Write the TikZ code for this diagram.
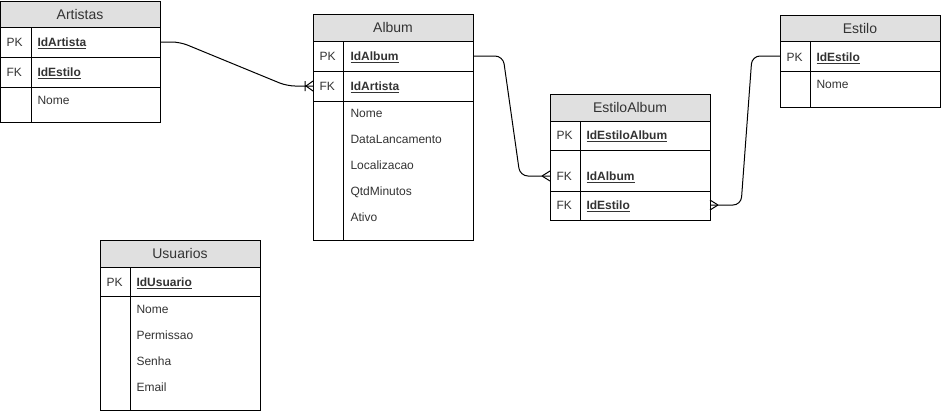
\documentclass[tikz,border=0pt]{standalone}
\usepackage{fontspec}
\setmainfont{Liberation Sans}
\usetikzlibrary{calc}
\definecolor{hdrgray}{HTML}{E0E0E0}
\definecolor{txt}{HTML}{333333}
\tikzset{
  every path/.style={line width=0.75pt},
  hdr/.style={draw, fill=hdrgray, text=txt, anchor=north west, minimum width=120pt, inner sep=0pt, outer sep=0pt,
    text height=7.6pt, text depth=0pt, font=\fontsize{10.5}{12}\selectfont},
  rowbox/.style={draw, anchor=north west, minimum width=120pt, inner sep=0pt, outer sep=0pt},
  lbl/.style={anchor=west, inner sep=0pt, text=txt, text height=6.5pt, text depth=0pt, font=\fontsize{9}{11}\selectfont},
  keylbl/.style={lbl, font=\fontsize{9}{11}\selectfont\bfseries},
  conn/.style={line width=0.75pt, rounded corners=6pt},
  foot/.style={line width=0.75pt},
}
\newcommand{\ul}[1]{\underline{#1}}
\begin{document}
\begin{tikzpicture}[x=0.75pt, y=-0.75pt]
\useasboundingbox (0,0) rectangle (941,411);

% ---------- Artistas ----------
\node[hdr, minimum height=26*0.75pt] (art) at (0,1) {Artistas};
\node[rowbox, minimum height=30*0.75pt] (artPK) at (0,27) {};
\node[rowbox, minimum height=30*0.75pt] (artFK) at (0,57) {};
\node[rowbox, minimum height=35*0.75pt] (artR) at (0,87) {};
\draw (31,27) -- (31,122);
\node[lbl] (artPKk) at (6,42) {PK};
\node[keylbl] (artPKf) at (37,42) {\ul{IdArtista}};
\node[lbl] (artFKk) at (6,72) {FK};
\node[keylbl] (artFKf) at (37,72) {\ul{IdEstilo}};
\node[lbl] (artN) at (37,100) {Nome};

% ---------- Album ----------
\node[hdr, minimum height=27*0.75pt] (alb) at (313,14) {Album};
\node[rowbox, minimum height=30*0.75pt] (albPK) at (313,41) {};
\node[rowbox, minimum height=30*0.75pt] (albFK) at (313,71) {};
\node[rowbox, minimum height=139*0.75pt] (albR) at (313,101) {};
\draw (343,41) -- (343,240);
\node[lbl] (albPKk) at (319,56) {PK};
\node[keylbl] (albPKf) at (350,56) {\ul{IdAlbum}};
\node[lbl] (albFKk) at (319,86) {FK};
\node[keylbl] (albFKf) at (350,86) {\ul{IdArtista}};
\node[lbl] (alb1) at (350,113) {Nome};
\node[lbl] (alb2) at (350,139) {DataLancamento};
\node[lbl] (alb3) at (350,165) {Localizacao};
\node[lbl] (alb4) at (350,191) {QtdMinutos};
\node[lbl] (alb5) at (350,217) {Ativo};

% ---------- EstiloAlbum ----------
\node[hdr, minimum height=27*0.75pt] (ea) at (550,94) {EstiloAlbum};
\node[rowbox, minimum height=29*0.75pt] (eaPK) at (550,121) {};
\node[rowbox, minimum height=41*0.75pt] (eaFK1) at (550,150) {};
\node[rowbox, minimum height=29*0.75pt] (eaFK2) at (550,191) {};
\draw (580,121) -- (580,220);
\node[lbl] (eaPKk) at (556,135) {PK};
\node[keylbl] (eaPKf) at (586,135) {\ul{IdEstiloAlbum}};
\node[lbl] (eaFK1k) at (556,176) {FK};
\node[keylbl] (eaFK1f) at (586,176) {\ul{IdAlbum}};
\node[lbl] (eaFK2k) at (556,205) {FK};
\node[keylbl] (eaFK2f) at (586,205) {\ul{IdEstilo}};

% ---------- Estilo ----------
\node[hdr, minimum height=26*0.75pt] (est) at (780,15) {Estilo};
\node[rowbox, minimum height=30*0.75pt] (estPK) at (780,41) {};
\node[rowbox, minimum height=36*0.75pt] (estR) at (780,71) {};
\draw (810,41) -- (810,107);
\node[lbl] (estPKk) at (786,57) {PK};
\node[keylbl] (estPKf) at (816,57) {\ul{IdEstilo}};
\node[lbl] (estN) at (816,84) {Nome};

% ---------- Usuarios ----------
\node[hdr, minimum height=27*0.75pt] (usr) at (100,240) {Usuarios};
\node[rowbox, minimum height=29*0.75pt] (usrPK) at (100,267) {};
\node[rowbox, minimum height=114*0.75pt] (usrR) at (100,296) {};
\draw (130,267) -- (130,410);
\node[lbl] (usrPKk) at (106,282) {PK};
\node[keylbl] (usrPKf) at (136,282) {\ul{IdUsuario}};
\node[lbl] (usr1) at (136,309) {Nome};
\node[lbl] (usr2) at (136,335) {Permissao};
\node[lbl] (usr3) at (136,361) {Senha};
\node[lbl] (usr4) at (136,387) {Email};

% ---------- Connectors ----------
% Artistas.IdArtista -> Album.IdArtista (one and many)
\coordinate (c1e) at (albFK.west);
\draw[conn] (artPK.east) -- ++(20,0) -- ($(c1e)+(-26,0)$) -- (c1e);
\draw[foot] ($(c1e)+(-7,0)$) -- ($(c1e)+(0,-5)$)
            ($(c1e)+(-7,0)$) -- ($(c1e)+(0,5)$)
            ($(c1e)+(-8,-5)$) -- ($(c1e)+(-8,5)$);

% Album.IdAlbum -> EstiloAlbum.IdAlbum (many)
\coordinate (c2e) at (eaFK1.west |- eaFK1k);
\draw[conn] (albPK.east) -- ++(30,0) -- ($(c2e)+(-30,0)$) -- (c2e);
\draw[foot] ($(c2e)+(-8,0)$) -- ($(c2e)+(0,-5)$)
            ($(c2e)+(-8,0)$) -- ($(c2e)+(0,5)$);

% Estilo.IdEstilo -> EstiloAlbum.IdEstilo (many)
\coordinate (c3e) at (eaFK2.east |- eaFK2k);
\draw[conn] (estPK.west) -- ++(-28,0) -- ($(c3e)+(31,0)$) -- (c3e);
\draw[foot] ($(c3e)+(8,0)$) -- ($(c3e)+(0,-5)$)
            ($(c3e)+(8,0)$) -- ($(c3e)+(0,5)$);
\end{tikzpicture}
\end{document}
